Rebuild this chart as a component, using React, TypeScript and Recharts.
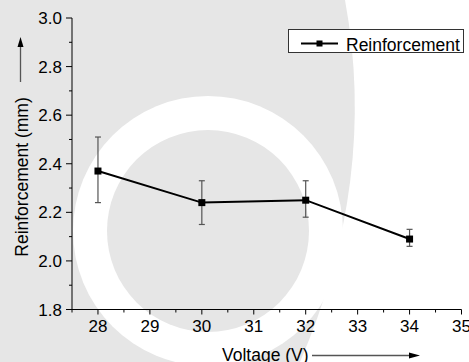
import React from 'react';
import { LineChart, Line, XAxis, YAxis, ErrorBar } from 'recharts';

const voltages = [28, 30, 32, 34];
const reinforcement = [2.37, 2.24, 2.25, 2.09];
const errLow = [0.13, 0.09, 0.07, 0.03];
const errHigh = [0.14, 0.09, 0.08, 0.04];

const xMajorTicks = [28, 29, 30, 31, 32, 33, 34, 35];
const xMinorTicks = [27.5, 28.5, 29.5, 30.5, 31.5, 32.5, 33.5, 34.5];
const yMajorTicks = [1.8, 2.0, 2.2, 2.4, 2.6, 2.8, 3.0];
const yMinorTicks = [1.9, 2.1, 2.3, 2.5, 2.7, 2.9];

const seriesName = 'Reinforcement';
const xLabel = 'Voltage (V)';
const yLabel = 'Reinforcement (mm)';

const data = voltages.map((v, i) => ({
  voltage: v,
  value: reinforcement[i],
  err: [errLow[i], errHigh[i]],
}));

const FONT = '"Liberation Sans", Arial, sans-serif';
const W = 469;
const H = 362;

const isIn = (arr: number[], v: number) => arr.some((a) => Math.abs(a - v) < 1e-6);

const XTick = (props: any) => {
  const { x, y, payload } = props;
  const major = isIn(xMajorTicks, payload.value);
  return (
    <g>
      <line x1={x} x2={x} y1={y} y2={y + (major ? 5 : 3)} stroke="#000" strokeWidth={1} />
      {major && (
        <text x={x} y={y + 22.5} textAnchor="middle" fontSize={17} fill="#000" fontFamily={FONT}>
          {payload.value}
        </text>
      )}
    </g>
  );
};

const YTick = (props: any) => {
  const { x, y, payload } = props;
  const major = isIn(yMajorTicks, payload.value);
  return (
    <g>
      <line x1={x - (major ? 6 : 3)} x2={x} y1={y} y2={y} stroke="#000" strokeWidth={1} />
      {major && (
        <text x={x - 10} y={y + 6} textAnchor="end" fontSize={17} fill="#000" fontFamily={FONT}>
          {Number(payload.value).toFixed(1)}
        </text>
      )}
    </g>
  );
};

const SquareDot = (props: any) => {
  const { cx, cy } = props;
  if (cx == null || cy == null) return null;
  return <rect x={cx - 3.5} y={cy - 3.5} width={7} height={7} fill="#000" />;
};

const Watermark = () => (
  <svg width={W} height={H} style={{ position: 'absolute', left: 0, top: 0 }}>
    <rect x={0} y={0} width={W} height={H} fill="#fff" />
    <path d="M0,0 L345,0 Q378,180 300,362 L0,362 Z" fill="#e6e6e6" />
    <circle cx={208} cy={231} r={135} fill="#fff" />
    <circle cx={208} cy={231} r={101} fill="#e6e6e6" />
  </svg>
);

const Overlay = () => (
  <svg width={W} height={H} style={{ position: 'absolute', left: 0, top: 0, pointerEvents: 'none' }}>
    {/* Y axis title with arrow */}
    <text
      x={28}
      y={177}
      transform="rotate(-90, 28, 177)"
      textAnchor="middle"
      fontSize={17.5}
      fill="#000"
      fontFamily={FONT}
    >
      {yLabel}
    </text>
    <line x1={20.5} x2={20.5} y1={82} y2={46} stroke="#555" strokeWidth={1.3} />
    <path d="M20.5,37 L17.5,47 L23.5,47 Z" fill="#000" />
    {/* X axis title with arrow */}
    <text x={222} y={360.5} textAnchor="start" fontSize={17.5} fill="#000" fontFamily={FONT}>
      {xLabel}
    </text>
    <line x1={312} x2={410} y1={355.5} y2={355.5} stroke="#555" strokeWidth={1.3} />
    <path d="M420,355.5 L409,352.5 L409,358.5 Z" fill="#000" />
    {/* Legend */}
    <rect x={288.5} y={29.5} width={175} height={23} fill="#fff" stroke="#333" strokeWidth={1} />
    <line x1={301} x2={338} y1={43.5} y2={43.5} stroke="#000" strokeWidth={2} />
    <rect x={316.5} y={40.5} width={6} height={6} fill="#000" />
    <text x={346} y={51} fontSize={17.5} fill="#000" fontFamily={FONT}>
      {seriesName}
    </text>
  </svg>
);

export default function App() {
  const xTicks = [...xMajorTicks, ...xMinorTicks].sort((a, b) => a - b);
  const yTicks = [...yMajorTicks, ...yMinorTicks].sort((a, b) => a - b);
  return (
    <div
      style={{
        position: 'absolute',
        left: 0,
        top: 0,
        width: W,
        height: H,
        overflow: 'hidden',
        fontFamily: FONT,
      }}
    >
      <Watermark />
      <div style={{ position: 'absolute', left: 0, top: 0 }}>
        <LineChart
          width={W}
          height={H}
          data={data}
          margin={{ top: 18, right: 7.5, bottom: 22.5, left: 0 }}
        >
          <XAxis
            dataKey="voltage"
            type="number"
            domain={[27.5, 35]}
            ticks={xTicks}
            interval={0}
            allowDataOverflow
            height={30}
            tickSize={0}
            tickMargin={0}
            tickLine={false}
            axisLine={{ stroke: '#000', strokeWidth: 1 }}
            tick={<XTick />}
          />
          <YAxis
            type="number"
            domain={[1.8, 3.0]}
            ticks={yTicks}
            interval={0}
            allowDataOverflow
            width={72}
            tickSize={0}
            tickMargin={0}
            tickLine={false}
            axisLine={{ stroke: '#000', strokeWidth: 1 }}
            tick={<YTick />}
          />
          <Line
            type="linear"
            dataKey="value"
            name={seriesName}
            stroke="#000"
            strokeWidth={2}
            dot={<SquareDot />}
            activeDot={false}
            isAnimationActive={false}
          >
            <ErrorBar
              dataKey="err"
              direction="y"
              width={3}
              stroke="#555"
              strokeWidth={1.2}
              isAnimationActive={false}
            />
          </Line>
        </LineChart>
      </div>
      <Overlay />
    </div>
  );
}
